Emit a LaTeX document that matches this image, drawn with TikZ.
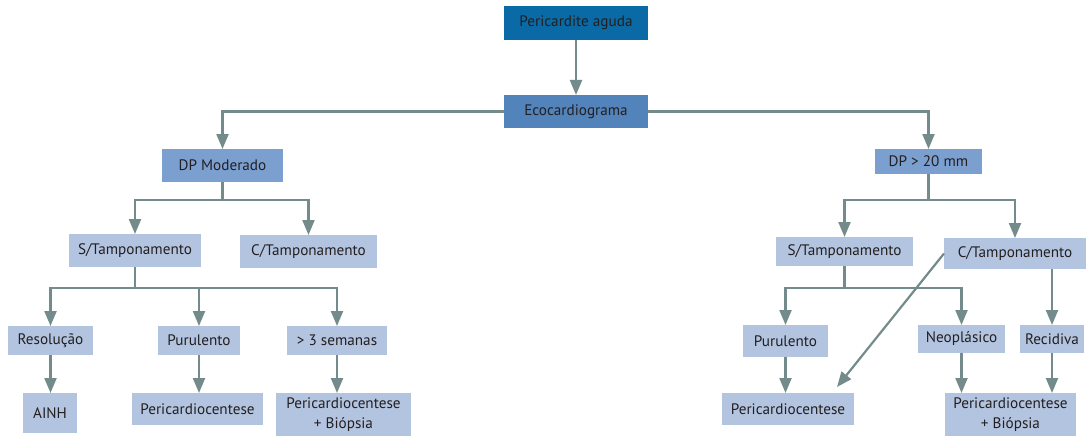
\documentclass[tikz,border=0pt]{standalone}
\usepackage{fontspec}
\setmainfont{PT Sans}
\usetikzlibrary{arrows.meta,calc}
\definecolor{cTop}{HTML}{0A6AA6}
\definecolor{cEco}{HTML}{5283BB}
\definecolor{cMid}{HTML}{7BA0D0}
\definecolor{cLight}{HTML}{B3C4E0}
\definecolor{cArr}{HTML}{748B8B}
\definecolor{cTxt}{HTML}{231F20}
\tikzset{
  bx/.style={inner sep=0pt, outer sep=0pt, text=cTxt, font=\fontsize{15.2}{18.5}\selectfont, align=center},
  topbox/.style={bx, fill=cTop},
  ecobox/.style={bx, fill=cEco},
  midbox/.style={bx, fill=cMid},
  lbox/.style={bx, fill=cLight},
  conn/.style={draw=cArr, line width=2.2pt},
  arr/.style={conn, -{Triangle[length=15pt,width=12pt]}, shorten >=0pt},
}
\begin{document}
\begin{tikzpicture}[x=1pt,y=-1pt]
\useasboundingbox (0,0) rectangle (1087,436);
% nodes
\node[topbox, minimum width=144pt, minimum height=34pt] (top) at (576,23) {Pericardite aguda};
\node[ecobox, minimum width=144pt, minimum height=33pt] (eco) at (576,111.5) {Ecocardiograma};
\node[midbox, minimum width=121pt, minimum height=33pt] (dpm) at (222.5,165.5) {DP Moderado};
\node[midbox, minimum width=107pt, minimum height=25pt] (dp20) at (928.5,161.5) {DP > 20 mm};
\node[lbox, minimum width=132pt, minimum height=33pt] (sl) at (135,250.5) {S/Tamponamento};
\node[lbox, minimum width=137pt, minimum height=33pt] (cl) at (308.5,251.5) {C/Tamponamento};
\node[lbox, minimum width=85pt, minimum height=29pt] (res) at (50.5,340.5) {Resolução};
\node[lbox, minimum width=82pt, minimum height=29pt] (pul) at (199,340.5) {Purulento};
\node[lbox, minimum width=100pt, minimum height=29pt] (sem) at (337,340.5) {> 3 semanas};
\node[lbox, minimum width=54pt, minimum height=40pt] (ainh) at (50,413) {AINH};
\node[lbox, minimum width=131pt, minimum height=32pt] (pcl) at (197.5,409) {Pericardiocentese};
\node[lbox, minimum width=135pt, minimum height=43pt] (pbl) at (343.5,414.5) {Pericardiocentese\\[2pt]+ Biópsia};
\node[lbox, minimum width=137pt, minimum height=29pt] (sr) at (844.5,251.5) {S/Tamponamento};
\node[lbox, minimum width=142pt, minimum height=31pt] (cr) at (1015,253.5) {C/Tamponamento};
\node[lbox, minimum width=85pt, minimum height=32pt] (pur) at (785.5,341) {Purulento};
\node[lbox, minimum width=87pt, minimum height=28pt] (neo) at (961.5,339) {Neoplásico};
\node[lbox, minimum width=64pt, minimum height=28pt] (rec) at (1052,339) {Recidiva};
\node[lbox, minimum width=132pt, minimum height=32pt] (pcr) at (788,409) {Pericardiocentese};
\node[lbox, minimum width=131pt, minimum height=43pt] (pbr) at (1010.5,414.5) {Pericardiocentese\\[2pt]+ Biópsia};
% junctions
\coordinate (j1) at (222.5,200);
\coordinate (j2) at (135,288);
\coordinate (j3) at (928.5,200);
\coordinate (j4) at (844.5,288);
\coordinate (dgt) at (837,387);
% connectors
\draw[arr] (top) -- (eco);
\draw[arr] (eco.west) -| (dpm.north);
\draw[arr] (eco.east) -| (dp20.north);
\draw[conn] (dpm.south) -- (j1);
\draw[arr] (j1) -| (sl.north);
\draw[arr] (j1) -| (cl.north);
\draw[conn] (sl.south) -- (j2);
\draw[arr] (j2) -| (res.north);
\draw[arr] (j2) -| (pul.north);
\draw[arr] (j2) -| (sem.north);
\draw[arr] (res.south) -- (res.south |- ainh.north);
\draw[arr] (pul.south) -- (pul.south |- pcl.north);
\draw[arr] (sem.south) -- (sem.south |- pbl.north);
\draw[conn] (dp20.south) -- (j3);
\draw[arr] (j3) -| (sr.north);
\draw[arr] (j3) -| (cr.north);
\draw[conn] (sr.south) -- (j4);
\draw[arr] (j4) -| (pur.north);
\draw[arr] (j4) -| (neo.north);
\draw[arr] (cr.west) -- (dgt);
\draw[arr] (rec.north |- cr.south) -- (rec.north);
\draw[arr] (pur.south) -- (pur.south |- pcr.north);
\draw[arr] (neo.south) -- (neo.south |- pbr.north);
\draw[arr] (rec.south) -- (rec.south |- pbr.north);
\end{tikzpicture}
\end{document}
